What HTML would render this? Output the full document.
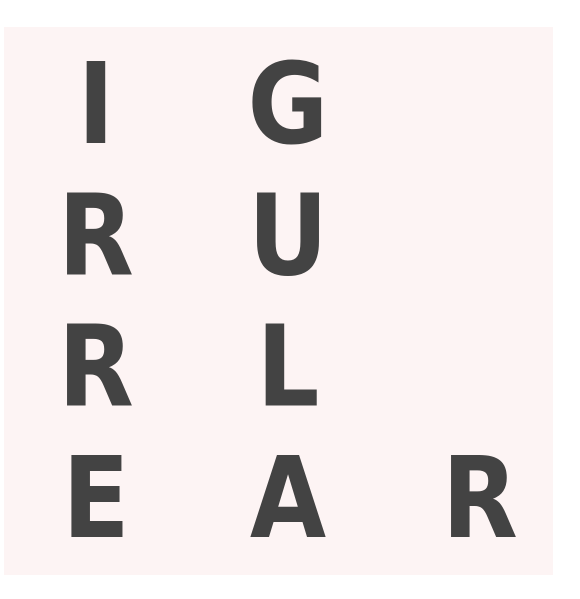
<!DOCTYPE html>
<html>
<head>
<meta charset="utf-8">
<style>
html,body{margin:0;padding:0;background:#fff;}
body{width:580px;height:599px;overflow:hidden;}
svg{display:block;}
text{font-family:"DejaVu Sans","Liberation Sans",sans-serif;font-weight:bold;fill:#434343;}
</style>
</head>
<body>
<svg id="chart" width="580" height="599">
<rect x="4" y="27" width="549" height="548" fill="#fdf4f4"></rect>
<g id="letters"></g>
</svg>
<script>
const letters = ["I","G","","R","U","","R","L","","E","A","R"];
const colIndex = [0,1,2,0,1,2,0,1,2,0,1,2];
const rowIndex = [0,0,0,1,1,1,2,2,2,3,3,3];
const colX = c => 96 + c * 192;
const rowY = r => 143 + r * 131.3;
const g = document.getElementById('letters');
const ns = 'http://www.w3.org/2000/svg';
letters.forEach((ch, i) => {
  if (!ch) return;
  const t = document.createElementNS(ns, 'text');
  const x = colX(colIndex[i]);
  const y = rowY(rowIndex[i]);
  t.setAttribute('x', 0);
  t.setAttribute('y', 0);
  t.setAttribute('text-anchor', 'middle');
  t.setAttribute('font-size', '112');
  t.setAttribute('transform', 'translate(' + x + ',' + y + ') scale(0.88,1)');
  t.textContent = ch;
  
  
  g.appendChild(t);
});
</script>
</body>
</html>
